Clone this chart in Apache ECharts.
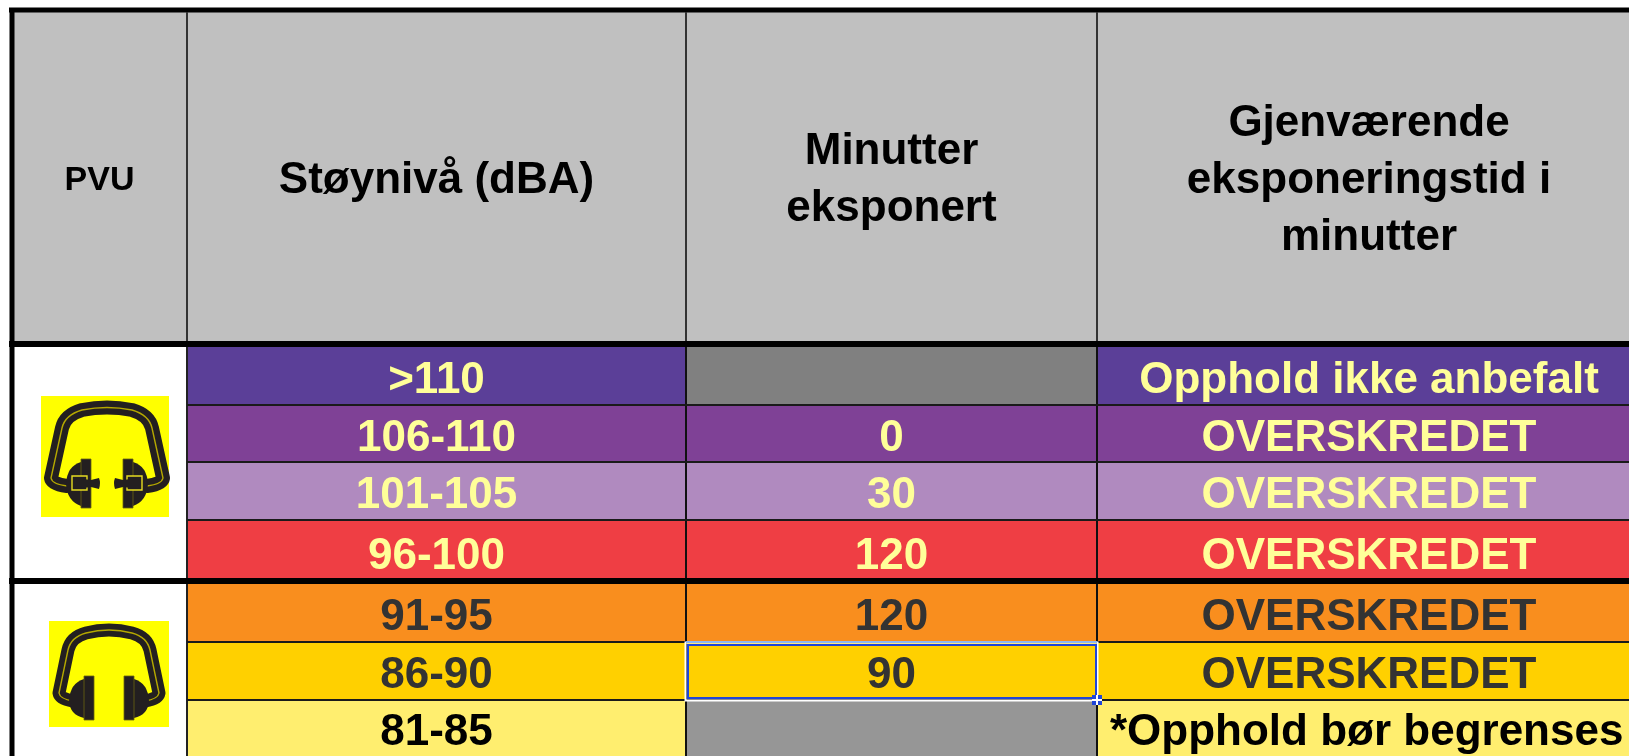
<!DOCTYPE html>
<html lang="no" style="height: 100%">
<head>
    <meta charset="UTF-8">
    <title>Støynivå</title>
    <script src="https://cdn.jsdelivr.net/npm/echarts@6/dist/echarts.min.js"></script>
    <style>
        html, body { margin: 0; background: #fff; }
        #main { width: 1629px; height: 756px; filter: blur(0.6px); }
    </style>
</head>
<body>
<div id="main"></div>
<script>
    // table content
    var headers = ['PVU', 'Støynivå (dBA)', 'Minutter\neksponert', 'Gjenværende\neksponeringstid i\nminutter'];
    var noiseLevels = ['>110', '106-110', '101-105', '96-100', '91-95', '86-90', '81-85'];
    var minutesExposed = [null, 0, 30, 120, 120, 90, null];
    var remainingTime = ['Opphold ikke anbefalt', 'OVERSKREDET', 'OVERSKREDET', 'OVERSKREDET', 'OVERSKREDET', 'OVERSKREDET', '*Opphold bør begrenses'];

    // look of the rows
    var rowColors = ['#5b3f98', '#7f4196', '#b08abf', '#ef3e44', '#f98e1e', '#ffd000', '#ffee6f'];
    var textColors = ['#ffff99', '#ffff99', '#ffff99', '#ffff99', '#333333', '#333333', '#000000'];
    var blankColors = ['#808080', null, null, null, null, null, '#969696'];

    // table layout, in axis units
    var colEdges = [12, 187, 686, 1097, 1629];
    var rowEdges = [347, 405, 462, 520, 584, 642, 700, 756];
    var headerTop = 12, headerBottom = 343;
    var FONT = '"Liberation Sans", Arial, sans-serif';

    function cellRect(api, x0, y0, x1, y1) {
        var a = api.coord([x0, y0]), b = api.coord([x1, y1]);
        return {x: a[0], y: a[1], width: b[0] - a[0], height: b[1] - a[1]};
    }

    function renderHeader(params, api) {
        var c = api.value(0);
        var r = cellRect(api, colEdges[c], headerTop, colEdges[c + 1], headerBottom);
        // third column runs on past the right edge of the picture
        var cx = c == 3 ? 1369 : r.x + r.width / 2;
        return {
            type: 'group',
            children: [
                {type: 'rect', shape: r, style: {fill: '#c0c0c0'}},
                {
                    type: 'text',
                    style: {
                        text: headers[c], x: cx, y: r.y + r.height / 2 + 3,
                        align: 'center', verticalAlign: 'middle',
                        font: 'bold ' + (c == 0 ? 34 : 44) + 'px ' + FONT,
                        lineHeight: 57, fill: '#000'
                    }
                }
            ]
        };
    }

    function renderCell(params, api) {
        var c = api.value(0), i = api.value(1);
        var r = cellRect(api, colEdges[c], rowEdges[i], colEdges[c + 1], rowEdges[i + 1]);
        var list = c == 1 ? noiseLevels : c == 2 ? minutesExposed : remainingTime;
        var v = list[i];
        var blank = v === null;
        var cx = c == 3 ? 1369 : r.x + r.width / 2;
        var children = [{
            type: 'rect', shape: r,
            style: {fill: blank ? blankColors[i] : rowColors[i]}
        }];
        if (!blank) {
            var left = i == 6 && c == 3;
            children.push({
                type: 'text',
                style: {
                    text: String(v), x: left ? 1110 : cx, y: r.y + r.height / 2 + 5,
                    align: left ? 'left' : 'center', verticalAlign: 'middle',
                    font: 'bold 44px ' + FONT, fill: textColors[i]
                }
            });
        }
        return {type: 'group', children: children};
    }

    function hLine(api, y, w, x0, x1, color) {
        var a = api.coord([x0, y]), b = api.coord([x1, y]);
        return {type: 'line', shape: {x1: a[0], y1: a[1], x2: b[0], y2: b[1]}, style: {stroke: color, lineWidth: w}};
    }
    function vLine(api, x, w, y0, y1, color) {
        var a = api.coord([x, y0]), b = api.coord([x, y1]);
        return {type: 'line', shape: {x1: a[0], y1: a[1], x2: b[0], y2: b[1]}, style: {stroke: color, lineWidth: w}};
    }

    function renderRules(params, api) {
        var children = [];
        // outer frame
        children.push(hLine(api, 10, 5, 9, 1629, '#000'));
        children.push(vLine(api, 12, 5, 8, 756, '#000'));
        // column lines
        children.push(vLine(api, 187, 2, 12, 343, '#333'));
        children.push(vLine(api, 686, 2, 12, 343, '#333'));
        children.push(vLine(api, 1097, 2, 12, 343, '#333'));
        children.push(vLine(api, 187, 2, 347, 756, '#222'));
        children.push(vLine(api, 686, 2, 347, 756, '#111'));
        children.push(vLine(api, 1097, 2, 347, 756, '#111'));
        // row lines
        [405, 462, 520, 642, 700].forEach(function (y) {
            children.push(hLine(api, y, 2, 187, 1629, '#1a1a1a'));
        });
        // heavy lines under the header and between the two PVU groups
        children.push(hLine(api, 344, 6, 9, 1629, '#000'));
        children.push(hLine(api, 581, 6, 9, 1629, '#000'));
        return {type: 'group', children: children};
    }

    // earmuff pictograms, drawn in their own little box
    var ICON_DARK = '#231f20';
    function earmuffIcon(api, box, bandPath, half) {
        var p = api.coord([box[0], box[1]]);
        var q = api.coord([box[2], box[3]]);
        var w = q[0] - p[0], h = q[1] - p[1];
        var mirror = half.mirrorAt;
        function side(children, flip) {
            return {
                type: 'group',
                x: flip ? mirror : 0, scaleX: flip ? -1 : 1,
                children: children
            };
        }
        function cup() {
            var items = [
                {type: 'path', shape: {pathData: half.dome}, style: {fill: ICON_DARK}},
                {type: 'rect', shape: half.bar, style: {fill: ICON_DARK, stroke: '#6b6410', lineWidth: 0.8}}
            ];
            if (half.plug) {
                items.push({type: 'rect', shape: half.plug, style: {fill: ICON_DARK, stroke: '#e6dc20', lineWidth: 1.4}});
                items.push({type: 'path', shape: {pathData: half.tip}, style: {fill: ICON_DARK}});
            }
            return items;
        }
        return {
            type: 'group', x: p[0], y: p[1],
            children: [
                {type: 'rect', shape: {x: 0, y: 0, width: w, height: h}, style: {fill: '#ffff00'}},
                {type: 'path', shape: {pathData: bandPath}, style: {fill: 'none', stroke: ICON_DARK, lineWidth: half.bandWidth, lineCap: 'round', lineJoin: 'round'}},
                {type: 'path', shape: {pathData: bandPath}, style: {fill: 'none', stroke: '#b5a800', lineWidth: 1.4}},
                side(cup(), false),
                side(cup(), true)
            ]
        };
    }

    function renderIcons(params, api) {
        return {
            type: 'group',
            children: [
                earmuffIcon(api, [41, 396, 169, 517],
                    'M 26 90 Q 11 88 10 82 L 21 32 Q 24 19 41 14 Q 66 9 91 14 Q 108 19 111 32 L 122 82 Q 121 88 106 90',
                    {
                        mirrorAt: 132, bandWidth: 14,
                        dome: 'M 40 66 Q 26 70 25 88 Q 26 105 40 110 Z',
                        bar: {x: 40, y: 63, width: 10, height: 49},
                        plug: {x: 31, y: 80, width: 15, height: 14},
                        tip: 'M 34 82 L 50 84 L 58 82 Q 60 87 58 93 L 50 91 L 34 93 Z'
                    }),
                earmuffIcon(api, [49, 621, 169, 727],
                    'M 24 80 Q 11 78 10 72 L 19 29 Q 22 16 37 12 Q 60 6 83 12 Q 98 16 101 29 L 110 72 Q 109 78 96 80',
                    {
                        mirrorAt: 120, bandWidth: 13,
                        dome: 'M 35 58 Q 21 62 20 80 Q 21 94 35 97 Z',
                        bar: {x: 35, y: 55, width: 10, height: 44}
                    })
            ]
        };
    }

    // the selected cell marker left over from the spreadsheet
    function renderSelection(params, api) {
        var outer = cellRect(api, 685.5, 642.5, 1097.5, 700.5);
        var inner = cellRect(api, 688, 645, 1096, 698);
        var h = api.coord([1097, 700]);
        return {
            type: 'group',
            children: [
                {type: 'rect', shape: outer, style: {fill: 'none', stroke: '#ffffff', lineWidth: 2}},
                hLine(api, 642, 2, 686, 1097, '#8fb8f5'),
                {type: 'rect', shape: inner, style: {fill: 'none', stroke: '#1f45d8', lineWidth: 2}},
                {type: 'rect', shape: {x: h[0] - 5, y: h[1] - 5, width: 10, height: 10}, style: {fill: '#1f45d8'}},
                {type: 'line', shape: {x1: h[0] - 5, y1: h[1], x2: h[0] + 5, y2: h[1]}, style: {stroke: '#fff', lineWidth: 2}},
                {type: 'line', shape: {x1: h[0], y1: h[1] - 5, x2: h[0], y2: h[1] + 5}, style: {stroke: '#fff', lineWidth: 2}}
            ]
        };
    }

    var headerCells = headers.map(function (t, c) { return [c, 0]; });
    var bodyCells = [];
    noiseLevels.forEach(function (t, i) {
        bodyCells.push([1, i], [2, i], [3, i]);
    });

    var myoption = {
        animation: false,
        backgroundColor: '#ffffff',
        grid: {left: 0, right: 0, top: 0, bottom: 0},
        xAxis: {type: 'value', min: 0, max: 1629, show: false},
        yAxis: {type: 'value', min: 0, max: 756, inverse: true, show: false},
        series: [
            {type: 'custom', renderItem: renderHeader, data: headerCells, clip: true, silent: true, z: 1},
            {type: 'custom', renderItem: renderCell, data: bodyCells, clip: true, silent: true, z: 2},
            {type: 'custom', renderItem: renderRules, data: [[0, 0]], clip: true, silent: true, z: 3},
            {type: 'custom', renderItem: renderIcons, data: [[0, 0]], silent: true, z: 4},
            {type: 'custom', renderItem: renderSelection, data: [[0, 0]], silent: true, z: 5}
        ]
    };
    var myChart = echarts.init(document.getElementById('main'));
    myChart.setOption(myoption);
</script>
</body>
</html>
